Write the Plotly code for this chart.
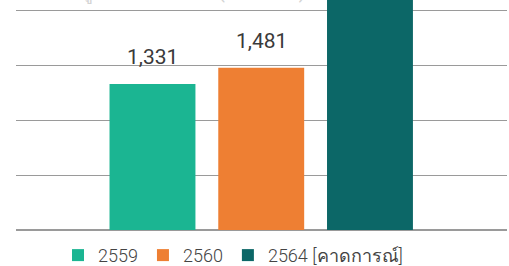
import plotly.graph_objects as go

categories = ["2559", "2560", "2564 [คาดการณ์]"]
values = [1331, 1481, 2600]
labels = ["1,331", "1,481", ""]
colors = ["#1bb592", "#ee7f33", "#0c6767"]
y_ticks = [0, 500, 1000, 1500, 2000]

fig = go.Figure()
for i, (cat, val, col) in enumerate(zip(categories, values, colors)):
    fig.add_trace(go.Bar(
        x=[i], y=[val], name=cat, marker=dict(color=col, line=dict(width=0)),
        width=0.79, showlegend=True,
    ))
    if labels[i]:
        fig.add_annotation(x=i, y=val, text=labels[i], showarrow=False,
                           yanchor="bottom", yshift=13,
                           font=dict(size=21, color="#3a3a3a", family="Roboto"))

fig.add_annotation(x=0.37, y=1.0, xref="x", yref="paper", text="มูลค่าตลาดรวม (ล้านบาท)",
                   showarrow=False, yanchor="bottom", yshift=-6,
                   font=dict(size=20, color="#d4d4d4", family="Roboto"))

fig.update_layout(
    width=509, height=266,
    margin=dict(l=16, r=2, t=0, b=36, autoexpand=False),
    paper_bgcolor="white", plot_bgcolor="white",
    barmode="overlay",
    xaxis=dict(range=[-1.255, 3.26], visible=False),
    yaxis=dict(range=[0, 2098], tickvals=y_ticks, showticklabels=False,
               showgrid=True, gridcolor="#9a9a9a", gridwidth=1, zeroline=True,
               zerolinecolor="#9a9a9a", zerolinewidth=1.5),
    legend=dict(orientation="h", x=0.442, xanchor="center", y=-0.03, yanchor="top",
                font=dict(size=18, color="#444444", family="Roboto", weight=300),
                itemclick=False),
    showlegend=True,
)

fig.write_html("out.html", config={"displayModeBar": False},
               post_script="document.body.style.margin='0';")
